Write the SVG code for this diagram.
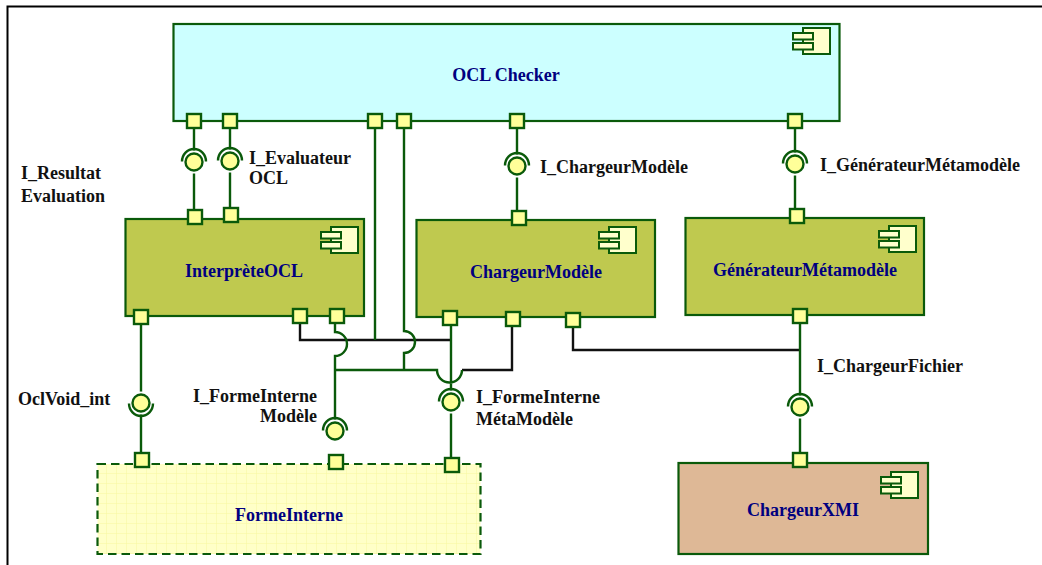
<svg xmlns="http://www.w3.org/2000/svg" width="1042" height="565" viewBox="0 0 1042 565">
<style>
text{font-family:"Liberation Serif","Times New Roman",serif;font-weight:bold;font-size:18px}
.lab{fill:#111}
.name{fill:#000080;text-anchor:middle}
.box{stroke:#0a5a0a;stroke-width:2.2}
.g{fill:none;stroke:#0a5a0a;stroke-width:2.4}
.arc{fill:none;stroke:#0a5a0a;stroke-width:2.4}
.k{fill:none;stroke:#111;stroke-width:2.400}
.port{fill:#ffff99;stroke:#0a5a0a;stroke-width:2.400}
.ball{fill:#ffff99;stroke:#0a5a0a;stroke-width:2.400}
.halo{fill:#fff}
.ic{fill:#ffffcc;stroke:#0a5a0a;stroke-width:2}
</style>
<defs>
<pattern id="grid" width="10" height="10" patternUnits="userSpaceOnUse" x="97" y="464"><rect width="10" height="10" fill="#ffffc8"/><path d="M10 0V10M0 10H10" stroke="#f7f7a0" stroke-width="1"/></pattern>
<g id="icon"><rect class="ic" x="10" y="0" width="27" height="26"/><rect class="ic" x="0" y="5" width="20" height="6.500"/><rect class="ic" x="0" y="15" width="20" height="6.500"/></g>
<rect id="p" class="port" x="-7" y="-7" width="14" height="14"/>
<g id="lolU"><circle class="halo" r="11.500"/><path class="arc" d="M-12 -0.500A12 12.500 0 0 1 12 -0.500"/><circle class="ball" r="8.500"/></g>
<g id="lolD"><circle class="halo" r="11.500"/><path class="arc" d="M-12 0.500A12 12.500 0 0 0 12 0.500"/><circle class="ball" r="8.500"/></g>
</defs>
<path d="M7.500 565V6.500H1042" fill="none" stroke="#000" stroke-width="2"/>
<g id="node-ocl"><rect class="box" x="173.500" y="24" width="666" height="97" fill="#ccffff"/><use href="#icon" x="793" y="28"/><text class="name" x="506" y="81">OCL Checker</text></g>
<g id="node-interprete"><rect class="box" x="125.500" y="219" width="238.500" height="97" fill="#bfc94f"/><use href="#icon" x="321" y="227"/><text class="name" x="244" y="277">InterprèteOCL</text></g>
<g id="node-chargeur"><rect class="box" x="416.500" y="220" width="238.500" height="97" fill="#bfc94f"/><use href="#icon" x="599" y="227"/><text class="name" x="536" y="278">ChargeurModèle</text></g>
<g id="node-generateur"><rect class="box" x="685.500" y="218" width="238.500" height="97" fill="#bfc94f"/><use href="#icon" x="879" y="226"/><text class="name" x="805" y="276">GénérateurMétamodèle</text></g>
<g id="node-forme"><rect x="97.500" y="464" width="383" height="90" fill="url(#grid)" stroke="#0a5a0a" stroke-width="2.200" stroke-dasharray="8.500 5"/><text class="name" x="289" y="521">FormeInterne</text></g>
<g id="node-xmi"><rect class="box" x="678.500" y="463" width="249.500" height="91" fill="#deb896"/><use href="#icon" x="881" y="472"/><text class="name" x="803" y="516">ChargeurXMI</text></g>
<g id="connectors">
<path class="k" d="M300 323V340H451"/>
<path class="k" d="M573 327V350H800"/>
<path class="k" d="M512 326V370H462"/>
<path class="g" d="M194 128V217M230 128V215M517 128V218M795 128V216M141 324V460M800 323V460M375 128V340"/>
<path class="g" d="M404 128V331A11 11 0 0 1 404 353V370"/>
<path class="g" d="M335 323V332A12 12 0 0 1 335 356V430M336 370H437A12.500 12.500 0 0 0 462 370M451 325V465"/>
<use href="#lolU" x="194" y="162"/><use href="#lolU" x="230" y="161"/><use href="#lolU" x="517" y="166"/><use href="#lolU" x="795" y="164"/>
<use href="#lolD" x="141" y="403"/><use href="#lolU" x="335" y="431"/><use href="#lolU" x="451" y="402"/><use href="#lolU" x="800" y="407"/>
</g>
<g id="ports">
<use href="#p" x="194" y="121"/><use href="#p" x="230" y="121"/><use href="#p" x="375" y="121"/><use href="#p" x="404" y="121"/><use href="#p" x="517" y="121"/><use href="#p" x="795" y="121"/>
<use href="#p" x="195" y="217"/><use href="#p" x="231" y="215"/><use href="#p" x="519" y="218"/><use href="#p" x="797" y="216"/>
<use href="#p" x="141" y="317"/><use href="#p" x="300" y="316"/><use href="#p" x="337" y="316"/><use href="#p" x="450" y="318"/><use href="#p" x="513" y="319"/><use href="#p" x="573" y="320"/><use href="#p" x="800" y="316"/>
<use href="#p" x="142" y="460"/><use href="#p" x="336" y="462"/><use href="#p" x="452" y="465"/><use href="#p" x="800" y="460"/>
</g>
<g id="labels">
<text class="lab" x="21" y="179">I_Resultat</text><text class="lab" x="21" y="202">Evaluation</text>
<text class="lab" x="249" y="164">I_Evaluateur</text><text class="lab" x="249" y="184">OCL</text>
<text class="lab" x="540" y="173">I_ChargeurModèle</text>
<text class="lab" x="820" y="171">I_GénérateurMétamodèle</text>
<text class="lab" x="817" y="372">I_ChargeurFichier</text>
<text class="lab" x="18" y="405">OclVoid_int</text>
<text class="lab" x="317" y="402" text-anchor="end">I_FormeInterne</text><text class="lab" x="317" y="422" text-anchor="end">Modèle</text>
<text class="lab" x="476" y="403">I_FormeInterne</text><text class="lab" x="476" y="425">MétaModèle</text>
</g>
</svg>
